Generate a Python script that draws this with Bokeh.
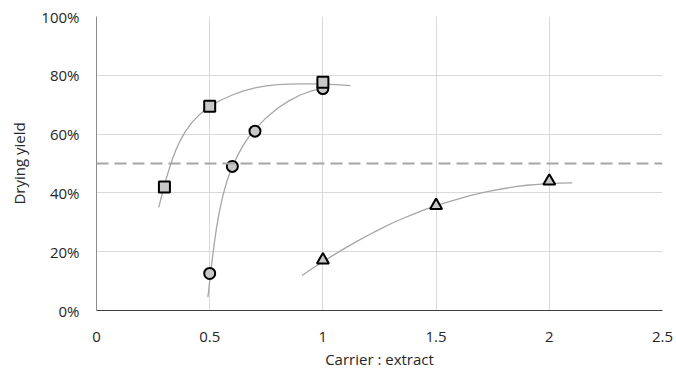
from bokeh.plotting import figure
from bokeh.models import Range1d, FixedTicker, Span
from bokeh.embed import file_html
from bokeh.resources import INLINE

# ---- data ----
x_ticks = [0, 0.5, 1, 1.5, 2, 2.5]
x_tick_labels = ["0", "0.5", "1", "1.5", "2", "2.5"]
y_ticks = [0, 0.2, 0.4, 0.6, 0.8, 1.0]
y_tick_labels = ["0%", "20%", "40%", "60%", "80%", "100%"]
threshold = 0.50

# measured points (carrier:extract, drying yield)
sq_x = [0.3, 0.5, 1.0]
sq_y = [0.42, 0.695, 0.776]
ci_x = [0.5, 0.6, 0.7, 1.0]
ci_y = [0.126, 0.49, 0.61, 0.755]
tr_x = [1.0, 1.5, 2.0]
tr_y = [0.172, 0.357, 0.44]

# trend curves
sq_curve_x = [0.275, 0.29, 0.305, 0.32, 0.335, 0.35, 0.37, 0.39, 0.42, 0.45, 0.5, 0.55, 0.6,
              0.65, 0.7, 0.75, 0.8, 0.85, 0.9, 0.95, 1.0, 1.06, 1.122]
sq_curve_y = [0.351, 0.397, 0.440, 0.479, 0.514, 0.545, 0.578, 0.606, 0.638, 0.663, 0.694, 0.716, 0.733,
              0.747, 0.757, 0.764, 0.768, 0.770, 0.771, 0.771, 0.770, 0.768, 0.765]
ci_curve_x = [0.492, 0.5, 0.51, 0.52, 0.53, 0.54, 0.55, 0.56, 0.575, 0.59, 0.6, 0.625, 0.65,
              0.675, 0.7, 0.75, 0.8, 0.85, 0.9, 0.95, 1.0]
ci_curve_y = [0.045, 0.100, 0.166, 0.227, 0.280, 0.325, 0.363, 0.396, 0.437, 0.470, 0.489, 0.530, 0.564,
              0.593, 0.617, 0.656, 0.688, 0.713, 0.733, 0.747, 0.756]
tr_curve_x = [0.908, 0.95, 1.0, 1.05, 1.1, 1.15, 1.2, 1.25, 1.3, 1.35, 1.4, 1.45, 1.5, 1.55, 1.6,
              1.65, 1.7, 1.75, 1.8, 1.85, 1.9, 1.95, 2.0, 2.05, 2.101]
tr_curve_y = [0.119, 0.141, 0.166, 0.190, 0.213, 0.235, 0.256, 0.276, 0.295, 0.312, 0.328, 0.343, 0.357, 0.369, 0.380,
              0.391, 0.400, 0.408, 0.415, 0.421, 0.426, 0.429, 0.432, 0.433, 0.434]

FONT = "Open Sans"
TXT = "#262626"
GRID = "#d9d9d9"
TREND = "#a6a6a6"
FILL = "#c8c8c8"

p = figure(width=676, height=374, output_backend="svg", toolbar_location=None,
           x_range=Range1d(0, 2.5), y_range=Range1d(0, 1),
           min_border_left=96, min_border_right=14, min_border_top=16, min_border_bottom=64)
p.outline_line_color = None
p.background_fill_color = "white"
p.border_fill_color = "white"

# grids
p.xgrid.ticker = FixedTicker(ticks=x_ticks)
p.ygrid.ticker = FixedTicker(ticks=y_ticks)
for g in (p.xgrid, p.ygrid):
    g.grid_line_color = GRID
    g.grid_line_width = 1

# axes
p.xaxis.ticker = FixedTicker(ticks=x_ticks)
p.yaxis.ticker = FixedTicker(ticks=y_ticks)
p.xaxis.major_label_overrides = {t: l for t, l in zip(x_ticks, x_tick_labels)}
p.yaxis.major_label_overrides = {t: l for t, l in zip(y_ticks, y_tick_labels)}
p.xaxis.axis_label = "Carrier : extract"
p.yaxis.axis_label = "Drying yield"
for ax in (p.xaxis, p.yaxis):
    ax.major_tick_out = 0
    ax.major_tick_in = 0
    ax.minor_tick_out = 0
    ax.minor_tick_in = 0
    ax.major_label_text_font = FONT
    ax.major_label_text_font_size = "15px"
    ax.major_label_text_color = TXT
    ax.axis_label_text_font = FONT
    ax.axis_label_text_font_size = "15px"
    ax.axis_label_text_font_style = "normal"
    ax.axis_label_text_color = TXT
p.xaxis.axis_line_color = "#404040"
p.yaxis.axis_line_color = "#8c8c8c"
p.xaxis.major_label_standoff = 21
p.yaxis.major_label_standoff = 17
p.xaxis.axis_label_standoff = 4
p.yaxis.axis_label_standoff = 9

# threshold line
p.add_layout(Span(location=threshold, dimension="width", line_color=TREND,
                  line_width=2, line_dash="12 6"))

# trend curves
p.line(sq_curve_x, sq_curve_y, line_color=TREND, line_width=1.3)
p.line(ci_curve_x, ci_curve_y, line_color=TREND, line_width=1.3)
p.line(tr_curve_x, tr_curve_y, line_color=TREND, line_width=1.3)

# markers
p.scatter(ci_x, ci_y, marker="circle", size=11, fill_color=FILL, line_color="black", line_width=2)
p.scatter(sq_x, sq_y, marker="square", size=11, fill_color=FILL, line_color="black", line_width=2)
p.scatter(tr_x, tr_y, marker="triangle", size=12, fill_color=FILL, line_color="black", line_width=2)

open("out.html", "w").write(file_html(p, INLINE))
